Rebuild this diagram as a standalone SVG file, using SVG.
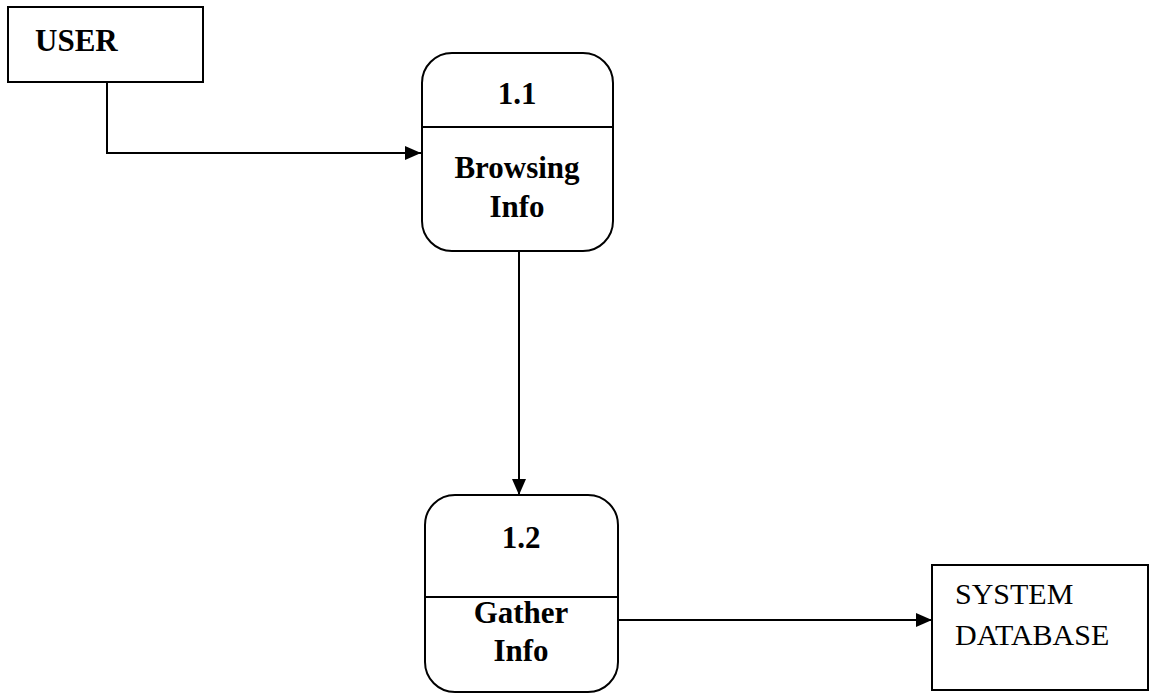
<svg xmlns="http://www.w3.org/2000/svg" width="1162" height="694" viewBox="0 0 1162 694">
  <defs>
    <marker id="arrow" viewBox="0 0 16 14" refX="16" refY="7" markerWidth="16" markerHeight="14" markerUnits="userSpaceOnUse" orient="auto">
      <path d="M0,0 L16,7 L0,14 Z" fill="#000"/>
    </marker>
    <style>
      .box { fill: #fff; stroke: #000; stroke-width: 2; }
      .div { stroke: #000; stroke-width: 2; }
      .flow { fill: none; stroke: #000; stroke-width: 2; marker-end: url(#arrow); }
      .b { font-family: "Liberation Serif", "Times New Roman", serif; font-weight: bold; font-size: 31px; fill: #000; }
      .r { font-family: "Liberation Serif", "Times New Roman", serif; font-size: 30px; fill: #000; }
      .c { text-anchor: middle; }
    </style>
  </defs>
  <rect width="1162" height="694" fill="#fff"/>

  <!-- data flows -->
  <g id="connectors">
    <path class="flow" d="M107,82 V153 H421"/>
    <path class="flow" d="M519,251 V495"/>
    <path class="flow" d="M618,620 H932"/>
  </g>

  <!-- external entity -->
  <g id="user">
    <rect class="box" x="8" y="7" width="195" height="75"/>
    <text class="b" x="35" y="51">USER</text>
  </g>

  <!-- process 1.1 -->
  <g id="process-1-1">
    <rect class="box" x="422" y="53" width="191" height="198" rx="30" ry="30"/>
    <line class="div" x1="422" y1="127" x2="613" y2="127"/>
    <text class="b c" x="517" y="104">1.1</text>
    <text class="b c" x="517" y="178">Browsing</text>
    <text class="b c" x="517" y="217">Info</text>
  </g>

  <!-- process 1.2 -->
  <g id="process-1-2">
    <rect class="box" x="425" y="495" width="193" height="197" rx="30" ry="30"/>
    <line class="div" x1="425" y1="597" x2="618" y2="597"/>
    <text class="b c" x="521" y="548">1.2</text>
    <text class="b c" x="521" y="623">Gather</text>
    <text class="b c" x="521" y="661">Info</text>
  </g>

  <!-- data store -->
  <g id="system-database">
    <rect class="box" x="932" y="565" width="216" height="125"/>
    <text class="r" x="955" y="604">SYSTEM</text>
    <text class="r" x="955" y="645">DATABASE</text>
  </g>
</svg>
